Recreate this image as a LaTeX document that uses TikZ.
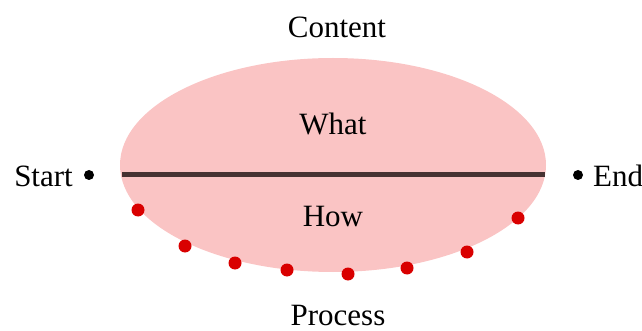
\documentclass[tikz,border=0pt]{standalone}
\usepackage{fontspec}
\setmainfont{Liberation Serif}
\begin{document}
\begin{tikzpicture}[x=1pt,y=-1pt,
  lbl/.style={font=\fontsize{31}{36}\selectfont, inner sep=0pt},
  reddot/.style={circle, fill=red!85!black, minimum size=13pt, inner sep=0pt},
  blackdot/.style={circle, fill=black, minimum size=10pt, inner sep=0pt}]
\useasboundingbox (0,0) rectangle (642,331);
\fill[fill={rgb,255:red,250;green,196;blue,196}] (333,165) ellipse [x radius=213, y radius=107];
\coordinate (L) at (122,175);
\coordinate (R) at (545,175);
\draw[line width=5pt, color={rgb,255:red,70;green,50;blue,50}] (L) -- (R);
\node[blackdot] (s) at (89,175) {};
\node[blackdot] (e) at (578,175) {};
\node[lbl, anchor=base east] (start) at (73,186) {Start};
\node[lbl, anchor=base west] (end) at (593,186) {End};
\node[lbl, anchor=base] (content) at (337,38) {Content};
\node[lbl, anchor=base] (what) at (333,135) {What};
\node[lbl, anchor=base] (how) at (333,226) {How};
\node[lbl, anchor=base, text depth=0pt] (process) at (338,325) {Process};
\foreach \i/\x/\y in {1/138/210,2/185/246,3/235/263,4/287/270,5/348/274,6/407/268,7/467/252,8/518/218}
  \node[reddot] (d\i) at (\x,\y) {};
\end{tikzpicture}
\end{document}
